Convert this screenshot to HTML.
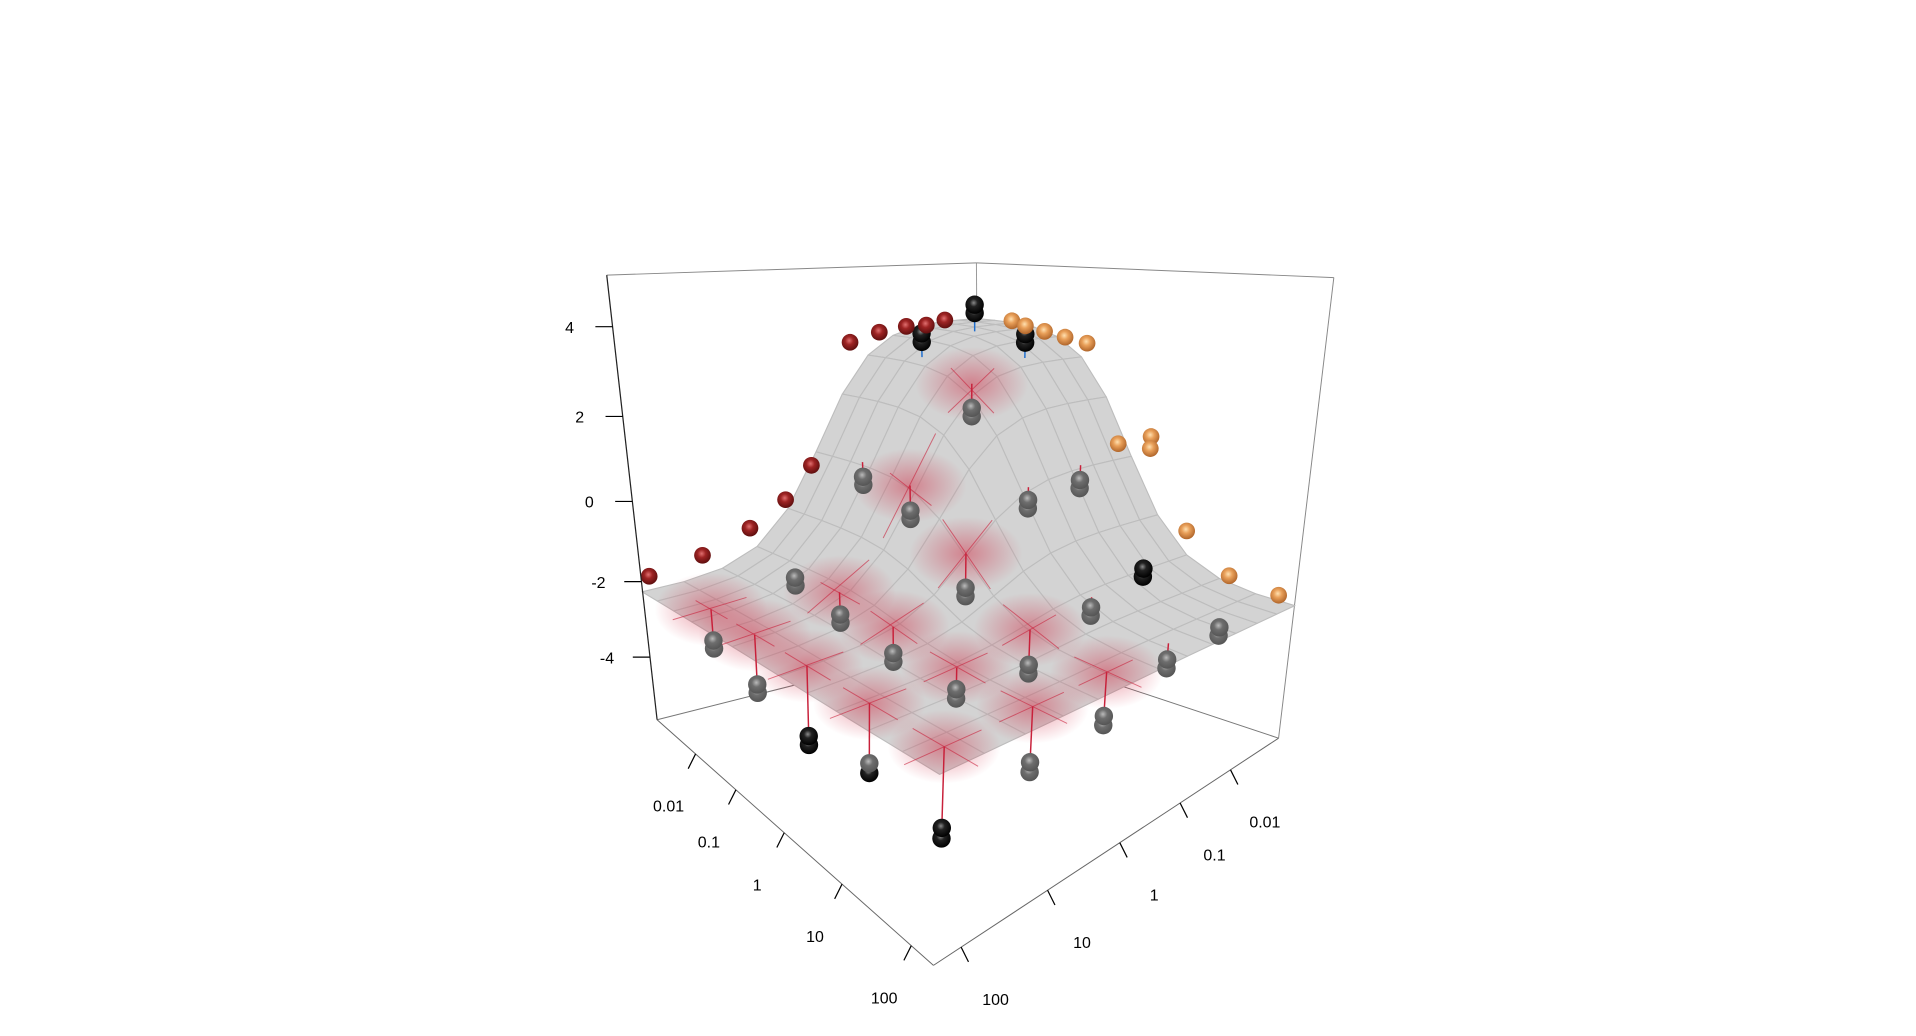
<!DOCTYPE html>
<html><head><meta charset="utf-8"><title>3D surface</title>
<style>
html,body{margin:0;padding:0;background:#fff;}
svg{display:block;}
text{font-family:"Liberation Sans",sans-serif;font-size:13px;fill:#000;}
</style></head>
<body>
<svg id="chart" width="1916" height="1036" viewBox="0 0 1560 843.5" preserveAspectRatio="none" xmlns="http://www.w3.org/2000/svg">
<defs>
<radialGradient id="gBlack" cx="0.45" cy="0.4" r="0.6"><stop offset="0" stop-color="#8a8a8a"/><stop offset="0.35" stop-color="#222"/><stop offset="1" stop-color="#000"/></radialGradient>
<radialGradient id="gGray" cx="0.45" cy="0.4" r="0.6"><stop offset="0" stop-color="#bbb"/><stop offset="0.4" stop-color="#6e6e6e"/><stop offset="1" stop-color="#555"/></radialGradient>
<radialGradient id="gRed" cx="0.45" cy="0.4" r="0.6"><stop offset="0" stop-color="#e07070"/><stop offset="0.4" stop-color="#9e2424"/><stop offset="1" stop-color="#5e0e0e"/></radialGradient>
<radialGradient id="gOrange" cx="0.45" cy="0.4" r="0.6"><stop offset="0" stop-color="#ffe0b0"/><stop offset="0.4" stop-color="#e9a05a"/><stop offset="1" stop-color="#b0652a"/></radialGradient>
<radialGradient id="gBlob" cx="0.5" cy="0.5" r="0.5"><stop offset="0" stop-color="#d0203a" stop-opacity="0.45"/><stop offset="0.55" stop-color="#d0203a" stop-opacity="0.2"/><stop offset="1" stop-color="#d0203a" stop-opacity="0"/></radialGradient>
</defs>
<g id="back"></g>
<g id="surf"></g>
<g id="pts"></g>
<g id="axes"></g>
</svg>
<script>
// ---- data ----
const xTicks = [0.01, 0.1, 1, 10, 100];
const yTicks = [0.01, 0.1, 1, 10, 100];
const zTicks = [-4, -2, 0, 2, 4];
// grid points (log10 x, log10 y) with two replicate responses
const ptA = [-2,-2,-2,-2,-2, -1,-1,-1,-1,-1, 0,0,0,0,0, 1,1,1,1,1, 2,2,2,2,2];
const ptB = [-2,-1,0,1,2, -2,-1,0,1,2, -2,-1,0,1,2, -2,-1,0,1,2, -2,-1,0,1,2];
const ptZ1 = [4.2,3.6,0.3,-1.9,-3.0, 3.6,2.0,-0.2,-2.3,-3.4, 0.3,0.1,-1.6,-2.6,-3.8, -1.5,-2.0,-2.8,-2.7,-3.5, -2.4,-2.6,-3.2,-3.4,-3.8];
const ptZ2 = [4.0,3.4,0.1,-2.1,-3.2, 3.4,1.8,-0.4,-2.5,-3.6, 0.1,-0.1,-1.8,-2.8,-4.0, -1.7,-2.2,-3.0,-2.9,-3.7, -2.6,-2.8,-3.4,-3.6,-4.0];
// edge series
const redB = [2.2,1.6,1.0,0.5,0.1,-0.6,-1.1,-1.6,-2.0,-2.4];
const redZ = [-1.9,-1.6,-1.1,-0.5,0.3,3.3,3.5,3.6,3.6,3.7];
const orgA = [-2.3,-2.0,-1.6,-1.2,-0.8,-0.2,0.3,0.3,0.9,1.5,2.1];
const orgZ = [3.7,3.6,3.5,3.4,3.3,0.9,1.2,0.9,-1.0,-1.9,-2.1];

// ---- projection ----
const LO = -3.16, HI = 2.29;
const B00=[797,520],B10=[1041,601],B11=[760,786],B01=[535,586];
const T00=[795,214],T10=[1086,226],T11=[778,238],T01=[494,224];
function warp(L){return -0.601+1.061*Math.exp(0.18*L);}
function bil(p00,p10,p11,p01,u,v){return [0,1].map(i=>(1-u)*(1-v)*p00[i]+u*(1-v)*p10[i]+u*v*p11[i]+(1-u)*v*p01[i]);}
function tz(z){return 0.491+0.0929*z+0.00134*z*z;}
function Puv(u,v,t){const p=bil(B00,B10,B11,B01,u,v),q=bil(T00,T10,T11,T01,u,v);return [p[0]+(q[0]-p[0])*t,p[1]+(q[1]-p[1])*t];}
function P(a,b,z){return Puv(warp(a),warp(b),tz(z));}
// fitted model
const BASE=-2.3, AMP=6.0, K=2.2, C0=0.0;
function sg(x){return 1/(1+Math.exp(K*(x-C0)));}
function surfZ(a,b){return BASE+AMP*sg(a)*sg(b);}

const NS='http://www.w3.org/2000/svg';
function mk(tag,attrs,parent){const e=document.createElementNS(NS,tag);for(const k in attrs)e.setAttribute(k,attrs[k]);parent.appendChild(e);return e;}
const back=document.getElementById('back'),surf=document.getElementById('surf'),pts=document.getElementById('pts'),axes=document.getElementById('axes');

function line(p,q,stroke,w,parent,name,op){const l=mk('line',{x1:p[0],y1:p[1],x2:q[0],y2:q[1],stroke:stroke,'stroke-width':w,'stroke-opacity':op||1},parent);


return l;}

// box back parts
line(Puv(0,0,0),Puv(0,0,1),'#999',0.8,back,'box-back-edge');
line(Puv(0,0,0),Puv(0,1,0),'#777',0.8,back,'box-bottom-back-left');
line(Puv(0,0,0),Puv(1,0,0),'#777',0.8,back,'box-bottom-back-right');
line(Puv(0,0,1),Puv(0,1,1),'#888',0.8,back,'box-top-back-left');
line(Puv(0,0,1),Puv(1,0,1),'#888',0.8,back,'box-top-back-right');
line(Puv(1,0,0),Puv(1,0,1),'#888',0.8,back,'box-right-edge');

// surface mesh
const N=12;
const quads=[];
for(let i=0;i<N;i++)for(let j=0;j<N;j++)quads.push([i,j]);
quads.sort((p,q)=>(p[0]+p[1])-(q[0]+q[1]));
function gv(i){return LO+(HI-LO)*i/N;}
for(const [i,j] of quads){
  const c=[[i,j],[i+1,j],[i+1,j+1],[i,j+1]].map(([ii,jj])=>P(gv(ii),gv(jj),surfZ(gv(ii),gv(jj))));
  const pg=mk('polygon',{points:c.map(p=>p.join(',')).join(' '),fill:'#d3d3d3',stroke:'#bdbdbd','stroke-width':0.9,'stroke-linejoin':'round'},surf);
  
  
}

// residual highlights on surface for points below
for(let k=0;k<ptA.length;k++){
  const s=surfZ(ptA[k],ptB[k]);
  if(ptZ1[k]<s-0.4){
    const c=P(ptA[k],ptB[k],s);
    const e=mk('ellipse',{cx:c[0],cy:c[1],rx:46,ry:30,fill:'url(#gBlob)'},surf);
    
    
    const d=0.4;
    line(P(ptA[k]-d,ptB[k],surfZ(ptA[k]-d,ptB[k])),P(ptA[k]+d,ptB[k],surfZ(ptA[k]+d,ptB[k])),'#c8203a',0.8,surf,'residual-grid-line',0.6);
    line(P(ptA[k],ptB[k]-d,surfZ(ptA[k],ptB[k]-d)),P(ptA[k],ptB[k]+d,surfZ(ptA[k],ptB[k]+d)),'#c8203a',0.8,surf,'residual-grid-line',0.6);
  }
}

// points
function sphere(c,fill,name,r){const e=mk('circle',{cx:c[0],cy:c[1],r:r||7,fill:fill},pts);

}
const order=ptA.map((_,k)=>k).sort((p,q)=>(ptA[p]+ptB[p])-(ptA[q]+ptB[q]));
for(const k of order){
  const s=surfZ(ptA[k],ptB[k]);
  const sp=P(ptA[k],ptB[k],s);
  const reps=[ptZ2[k],ptZ1[k]];
  const zmin=Math.min(...reps),zmax=Math.max(...reps);
  const above=zmax>s;
  line(sp,P(ptA[k],ptB[k],zmin),above?'#1f6fcf':'#c8203a',1.2,pts,above?'stem-above':'stem-below');
  for(const z of [zmin,zmax]){
    const dev=s-z;
    const fill=(z>s||dev>1.4)?'url(#gBlack)':'url(#gGray)';
    sphere(P(ptA[k],ptB[k],z),fill,'data-point',7.5);
  }
}
for(let k=0;k<redB.length;k++){sphere(P(LO,redB[k],redZ[k]),'url(#gRed)','edge-point-red',6.8);}
for(let k=0;k<orgA.length;k++){sphere(P(orgA[k],LO,orgZ[k]),'url(#gOrange)','edge-point-orange',6.8);}

// front box edges / axes
line(Puv(0,1,0),Puv(1,1,0),'#666',0.8,axes,'x-axis-line');
line(Puv(1,0,0),Puv(1,1,0),'#666',0.8,axes,'y-axis-line');
line(Puv(0,1,0),Puv(0,1,1),'#222',1,axes,'z-axis-line');
for(const v of xTicks){
  const p=Puv(warp(Math.log10(v)),1,0);
  line(p,[p[0]-6,p[1]+12],'#000',1,axes,'x-tick');
  const t=mk('text',{x:p[0]-22,y:p[1]+47,'text-anchor':'middle'},axes);t.textContent=String(v);
  
  
}
for(const v of yTicks){
  const p=Puv(1,warp(Math.log10(v)),0);
  line(p,[p[0]+6,p[1]+12],'#000',1,axes,'y-tick');
  const t=mk('text',{x:p[0]+28,y:p[1]+47,'text-anchor':'middle'},axes);t.textContent=String(v);
  
  
}
for(const z of zTicks){
  const p=Puv(0,1,tz(z));
  line(p,[p[0]-14,p[1]],'#000',1,axes,'z-tick');
  const t=mk('text',{x:p[0]-35,y:p[1]+5,'text-anchor':'middle'},axes);t.textContent=String(z);
  
  
}
</script>
</body></html>
